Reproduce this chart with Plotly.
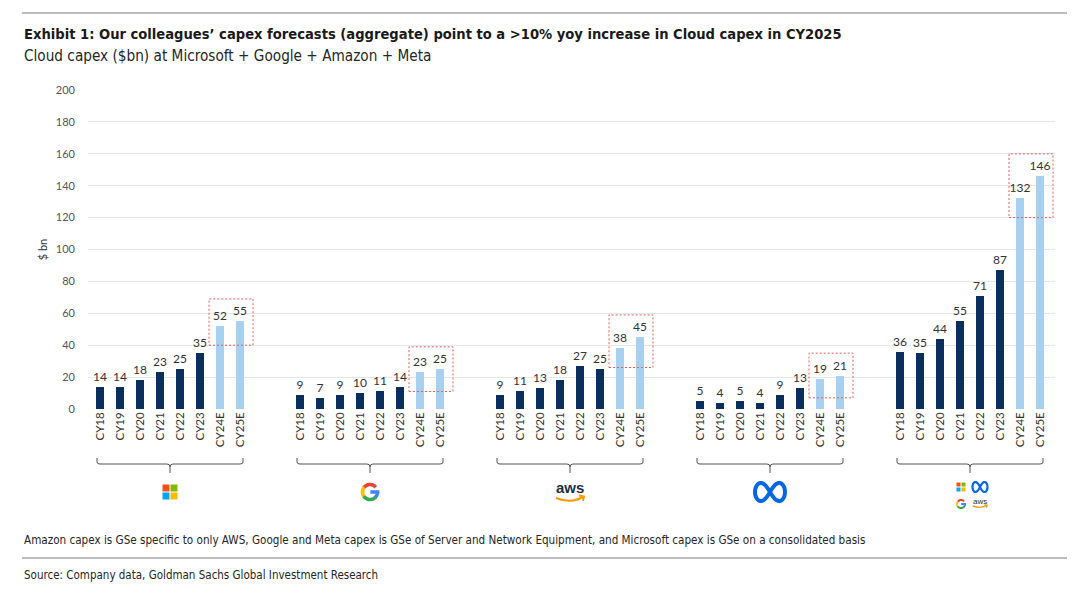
import numpy as np
import plotly.graph_objects as go

# ---------------- data ----------------
years = ["CY18", "CY19", "CY20", "CY21", "CY22", "CY23", "CY24E", "CY25E"]
is_estimate = [False, False, False, False, False, False, True, True]
companies = ["Microsoft", "Google", "Amazon", "Meta", "Total"]
microsoft = [14, 14, 18, 23, 25, 35, 52, 55]
google = [9, 7, 9, 10, 11, 14, 23, 25]
amazon = [9, 11, 13, 18, 27, 25, 38, 45]
meta = [5, 4, 5, 4, 9, 13, 19, 21]
total = [36, 35, 44, 55, 71, 87, 132, 146]
series = [microsoft, google, amazon, meta, total]
y_ticks = [0, 20, 40, 60, 80, 100, 120, 140, 160, 180, 200]

title = "Exhibit 1: Our colleagues’ capex forecasts (aggregate) point to a >10% yoy increase in Cloud capex in CY2025"
subtitle = "Cloud capex ($bn) at Microsoft + Google + Amazon + Meta"
footnote = ("Amazon capex is GSe specific to only AWS, Google and Meta capex is GSe of Server and "
            "Network Equipment, and Microsoft capex is GSe on a consolidated basis")
source = "Source: Company data, Goldman Sachs Global Investment Research"

# ---------------- style ----------------
W, H = 1080, 598
ML, MR, MT, MB = 88, 25, 90, 189
DARK = "#0b2f5c"
LIGHT = "#a8d0f0"
BOX_RED = "#e0605a"
NUM_FONT = "Lato, Calibri, Carlito, sans-serif"
NARROW = "Liberation Sans Narrow, Arial Narrow, DejaVu Sans Condensed, sans-serif"
GAP = 2
SLOTS = len(years) + GAP
n_slots = SLOTS * len(companies) - GAP
XMIN, XMAX = -0.6, n_slots - 1 + 0.75


def px(xpix):
    return (xpix - ML) / (W - ML - MR)


def py(ypix):
    return (H - MB - ypix) / (H - MT - MB)


def xpaper(slot):
    return (slot - XMIN) / (XMAX - XMIN)


fig = go.Figure()

tickvals, ticktext = [], []
shapes = []
for g, (name, vals) in enumerate(zip(companies, series)):
    xs = [g * SLOTS + i for i in range(len(years))]
    colors = [LIGHT if e else DARK for e in is_estimate]
    fig.add_trace(go.Bar(
        x=xs, y=vals, name=name, width=0.38,
        marker=dict(color=colors, line=dict(width=0)),
        text=vals, textposition="outside", texttemplate="%{y}",
        textfont=dict(family=NUM_FONT, size=12, color="#333333"),
        constraintext="none",
        cliponaxis=False, showlegend=False,
        hovertemplate=name + " %{customdata}: %{y}<extra></extra>",
        customdata=years,
    ))
    tickvals += xs
    ticktext += years
    # dashed box around the estimates
    est_x = [x for x, e in zip(xs, is_estimate) if e]
    est_v = [v for v, e in zip(vals, is_estimate) if e]
    shapes.append(dict(type="rect", xref="x", yref="y",
                       x0=min(est_x) - 0.55, x1=max(est_x) + 0.65,
                       y0=min(est_v) - 12, y1=max(est_v) + 14,
                       line=dict(color=BOX_RED, width=1, dash="2px,2px"),
                       fillcolor="rgba(0,0,0,0)", layer="above"))
    # bracket under each group
    cx = xpaper(g * SLOTS + (len(years) - 1) / 2)
    shapes.append(dict(type="path", xref="paper", yref="paper",
                       xsizemode="pixel", ysizemode="pixel",
                       xanchor=cx, yanchor=py(464),
                       path="M -73,6 L -73,2 Q -73,0 -70,0 L -3,0 Q 0,0 0,-3 L 0,-9 "
                            "M 0,-3 Q 0,0 3,0 L 70,0 Q 73,0 73,2 L 73,6",
                       line=dict(color="#555555", width=1)))

# ---------------- logos (drawn with shapes) ----------------


def ms_logo(cx, cy, s):
    cols = ["#f25022", "#7fba00", "#00a4ef", "#ffb900"]
    out = []
    for k, (dx, dy) in enumerate([(-1, 1), (1, 1), (-1, -1), (1, -1)]):
        x0 = -s - 0.5 if dx < 0 else 0.5
        y0 = 0.5 if dy > 0 else -s - 0.5
        out.append(dict(type="rect", xref="paper", yref="paper",
                        xsizemode="pixel", ysizemode="pixel",
                        xanchor=cx, yanchor=cy, x0=x0, x1=x0 + s, y0=y0, y1=y0 + s,
                        fillcolor=cols[k], line=dict(width=0)))
    return out


def arc_path(r, a0, a1, n=20):
    t = np.radians(np.linspace(a0, a1, n))
    pts = ["%s %.2f,%.2f" % ("M" if i == 0 else "L", r * np.cos(a), r * np.sin(a)) for i, a in enumerate(t)]
    return " ".join(pts)


def g_logo(cx, cy, r, w):
    segs = [("#ea4335", 40, 145), ("#fbbc05", 140, 220), ("#34a853", 215, 320), ("#4285f4", 315, 362)]
    out = []
    for col, a0, a1 in segs:
        out.append(dict(type="path", xref="paper", yref="paper",
                        xsizemode="pixel", ysizemode="pixel", xanchor=cx, yanchor=cy,
                        path=arc_path(r, a0, a1), line=dict(color=col, width=w)))
    out.append(dict(type="path", xref="paper", yref="paper",
                    xsizemode="pixel", ysizemode="pixel", xanchor=cx, yanchor=cy,
                    path="M %.2f,0 L %.2f,0" % (0.05 * r, r + w / 2), line=dict(color="#4285f4", width=w)))
    return out


def meta_logo(cx, cy, a, hy, w):
    t = np.linspace(0, 2 * np.pi, 80)
    x = a * np.cos(t) / (1 + np.sin(t) ** 2)
    y = hy * np.sin(t) * np.cos(t) / (1 + np.sin(t) ** 2) / 0.354
    path = " ".join("%s %.2f,%.2f" % ("M" if i == 0 else "L", xx, yy) for i, (xx, yy) in enumerate(zip(x, y))) + " Z"
    return [dict(type="path", xref="paper", yref="paper",
                 xsizemode="pixel", ysizemode="pixel", xanchor=cx, yanchor=cy,
                 path=path, line=dict(color="#0668e1", width=w))]


def aws_smile(cx, cy, s):
    p = "M %.1f,%.1f Q 0,%.1f %.1f,%.1f" % (-14 * s, 0, -6 * s, 13 * s, 1 * s)
    arrow = "M %.1f,%.1f L %.1f,%.1f L %.1f,%.1f" % (9 * s, 2.5 * s, 14 * s, 1.5 * s, 13 * s, -3 * s)
    return [dict(type="path", xref="paper", yref="paper",
                 xsizemode="pixel", ysizemode="pixel", xanchor=cx, yanchor=cy,
                 path=p + " " + arrow, line=dict(color="#ff9900", width=2 * s if s > 0.7 else 1.4))]


centers = [xpaper(g * SLOTS + (len(years) - 1) / 2) for g in range(len(companies))]
shapes += ms_logo(centers[0], py(492), 7)
shapes += g_logo(centers[1], py(492), 7.5, 3.6)
shapes += aws_smile(centers[2], py(498), 1.0)
shapes += meta_logo(centers[3], py(492), 15, 9, 4)
# combined icon
c = centers[4]
shapes += ms_logo(c - px(ML + 9) + px(ML), py(487), 4)
shapes += meta_logo(c + px(ML + 10) - px(ML), py(487), 7.5, 5, 2.2)
shapes += g_logo(c - px(ML + 9) + px(ML), py(504), 4, 2)
shapes += aws_smile(c + px(ML + 10) - px(ML), py(506), 0.5)

annotations = []
annotations.append(dict(x=centers[2], y=py(487), xref="paper", yref="paper", text="<b>aws</b>",
                        showarrow=False, xanchor="center", yanchor="middle",
                        font=dict(family="Liberation Sans, Arial, sans-serif", size=15, color="#232f3e")))
annotations.append(dict(x=c + px(ML + 10) - px(ML), y=py(501), xref="paper", yref="paper", text="aws",
                        showarrow=False, xanchor="center", yanchor="middle",
                        font=dict(family="Liberation Sans, Arial, sans-serif", size=8, color="#232f3e")))

# ---------------- header / footer ----------------
annotations += [
    dict(x=px(22), y=py(34), xref="paper", yref="paper", text="<b>" + title + "</b>",
         showarrow=False, xanchor="left", yanchor="middle",
         font=dict(family=NARROW, size=14.6, color="#1a1a1a")),
    dict(x=px(22), y=py(56), xref="paper", yref="paper", text=subtitle,
         showarrow=False, xanchor="left", yanchor="middle",
         font=dict(family=NARROW, size=15.2, color="#262626")),
    dict(x=px(22), y=py(540), xref="paper", yref="paper", text=footnote,
         showarrow=False, xanchor="left", yanchor="middle",
         font=dict(family=NARROW, size=11.6, color="#262626")),
    dict(x=px(22), y=py(575), xref="paper", yref="paper", text=source,
         showarrow=False, xanchor="left", yanchor="middle",
         font=dict(family=NARROW, size=11.5, color="#262626")),
]
shapes += [
    dict(type="line", xref="paper", yref="paper", x0=px(22), x1=px(1067), y0=py(13), y1=py(13),
         line=dict(color="#a6a6a6", width=1.5)),
    dict(type="line", xref="paper", yref="paper", x0=px(22), x1=px(1067), y0=py(558), y1=py(558),
         line=dict(color="#a6a6a6", width=1.5)),
]

fig.update_layout(
    width=W, height=H,
    margin=dict(l=ML, r=MR, t=MT, b=MB, pad=0),
    paper_bgcolor="white", plot_bgcolor="white",
    bargap=0, showlegend=False,
    shapes=shapes, annotations=annotations,
    xaxis=dict(range=[XMIN, XMAX], tickmode="array", tickvals=tickvals, ticktext=ticktext,
               tickangle=-90, showgrid=False, zeroline=False, showline=False, ticks="",
               tickfont=dict(family=NUM_FONT, size=11.5, color="#333333"), fixedrange=True),
    yaxis=dict(range=[0, 200], tickmode="array", tickvals=y_ticks, showgrid=True,
               gridcolor="#e8e8e8", gridwidth=1, zeroline=False, showline=False, ticks="",
               tickfont=dict(family=NUM_FONT, size=11, color="#555555"), ticklabelstandoff=12,
               title=dict(text="$ bn", font=dict(family=NUM_FONT, size=11, color="#333333"), standoff=6),
               fixedrange=True),
)

fig.write_html("out.html", config={"displayModeBar": False},
               post_script="document.body.style.margin='0';document.body.style.overflow='hidden';")
